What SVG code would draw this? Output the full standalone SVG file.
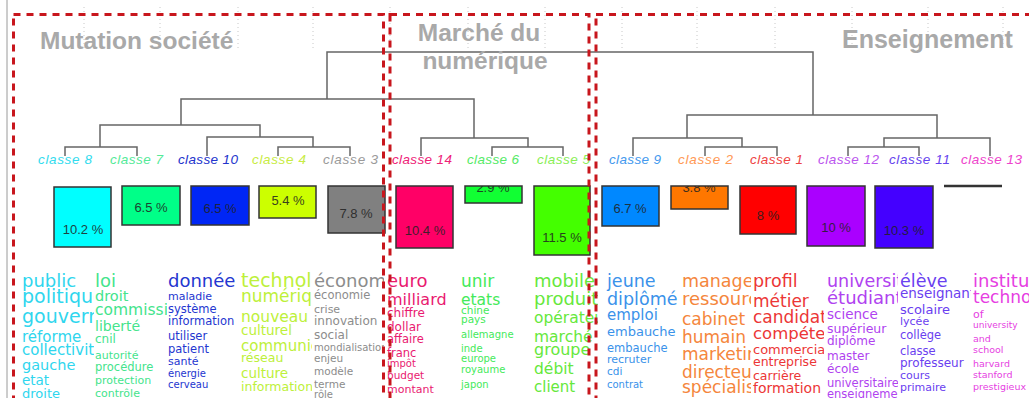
<svg xmlns="http://www.w3.org/2000/svg" width="1029" height="398" viewBox="0 0 1029 398">
<style>
.title{font-family:"Liberation Sans",Arial,sans-serif;font-weight:bold;font-size:24.5px;fill:#a9a9a9}
.lbl{font-family:"Liberation Sans",Arial,sans-serif;font-style:italic;font-size:13.5px}
.bar{stroke:#333;stroke-width:1.5}
.pct{font-family:"Liberation Sans",Arial,sans-serif;font-size:13px;fill:#222;text-anchor:middle;opacity:0.85}
.w{font-family:"DejaVu Sans",Verdana,sans-serif}
.den{fill:none;stroke:#666;stroke-width:1.5}
.grid{stroke:#c8c8c8;stroke-width:1;stroke-dasharray:1 3}
.frame{fill:none;stroke:#c8161d;stroke-width:3;stroke-dasharray:7 6}
</style>
<defs>
<clipPath id="c1"><rect x="18" y="262" width="76" height="140"/></clipPath>
<clipPath id="c2"><rect x="94" y="262" width="73" height="140"/></clipPath>
<clipPath id="c3"><rect x="167" y="262" width="72" height="140"/></clipPath>
<clipPath id="c4"><rect x="239" y="262" width="73" height="140"/></clipPath>
<clipPath id="c5"><rect x="312" y="262" width="72" height="140"/></clipPath>
<clipPath id="c6"><rect x="384" y="262" width="74" height="140"/></clipPath>
<clipPath id="c7"><rect x="458" y="262" width="74" height="140"/></clipPath>
<clipPath id="c8"><rect x="532" y="262" width="66" height="140"/></clipPath>
<clipPath id="c9"><rect x="604" y="262" width="75" height="140"/></clipPath>
<clipPath id="c10"><rect x="679" y="262" width="72" height="140"/></clipPath>
<clipPath id="c11"><rect x="751" y="262" width="73" height="140"/></clipPath>
<clipPath id="c12"><rect x="824" y="262" width="74" height="140"/></clipPath>
<clipPath id="c13"><rect x="898" y="262" width="73" height="140"/></clipPath>
<clipPath id="c14"><rect x="971" y="262" width="58" height="140"/></clipPath>
<clipPath id="bar6"><rect x="465" y="186" width="57" height="17"/></clipPath>
<clipPath id="bar2"><rect x="671" y="186" width="57" height="23"/></clipPath>
</defs>
<rect width="1029" height="398" fill="#fff"/>
<line x1="7" y1="0" x2="7" y2="398" stroke="#9a9a9a" stroke-width="1"/>
<g id="grid">
<line class="grid" x1="84" y1="7" x2="84" y2="50"/><line class="grid" x1="160" y1="7" x2="160" y2="50"/>
<line class="grid" x1="238" y1="7" x2="238" y2="50"/><line class="grid" x1="313" y1="7" x2="313" y2="50"/>
<line class="grid" x1="390" y1="7" x2="390" y2="50"/><line class="grid" x1="468" y1="7" x2="468" y2="50"/>
<line class="grid" x1="545" y1="7" x2="545" y2="50"/><line class="grid" x1="622" y1="7" x2="622" y2="50"/>
<line class="grid" x1="697" y1="7" x2="697" y2="50"/><line class="grid" x1="775" y1="7" x2="775" y2="50"/>
<line class="grid" x1="852" y1="7" x2="852" y2="50"/><line class="grid" x1="928" y1="7" x2="928" y2="50"/>
<line class="grid" x1="1003" y1="7" x2="1003" y2="50"/>
</g>
<g id="connectors">
<path class="den" d="M327 99 V52 H813 V115"/>
<path class="den" d="M181 125 V99 H474 V138"/>
<path class="den" d="M100 147 V125 H260 V137"/>
<path class="den" d="M65 156 V147 H137 V156"/>
<path class="den" d="M207 156 V137 H313 V147"/>
<path class="den" d="M278 156 V147 H350 V156"/>
<path class="den" d="M421 156 V138 H528 V147"/>
<path class="den" d="M492 156 V147 H563 V156"/>
<path class="den" d="M687 138 V115 H937 V138"/>
<path class="den" d="M633 156 V138 H742 V147"/>
<path class="den" d="M705 156 V147 H777 V156"/>
<path class="den" d="M884 147 V138 H990 V156"/>
<path class="den" d="M848 156 V147 H919 V156"/>
</g>
<g id="title-mutation"><text class="title" x="40" y="49">Mutation société</text></g>
<g id="title-marche"><text class="title" x="479" y="41" text-anchor="middle">Marché du</text><text class="title" x="485" y="69" text-anchor="middle">numérique</text></g>
<g id="title-enseignement"><text class="title" x="842" y="48" style="font-size:25px">Enseignement</text></g>

<g id="classe-8">
<text class="lbl" x="38" y="164" fill="#33dcee" textLength="54" lengthAdjust="spacing">classe 8</text>
<rect class="bar" x="54" y="187" width="57" height="60" fill="#00ffff"/>
<text class="pct" x="83" y="234">10.2 %</text>
<g class="w" fill="#2fd6ee" clip-path="url(#c1)">
<text x="22" y="287" font-size="18">public</text>
<text x="22" y="303" font-size="19">politique</text>
<text x="22" y="323" font-size="19">gouvernement</text>
<text x="22" y="342" font-size="15">réforme</text>
<text x="22" y="355" font-size="15">collectivité</text>
<text x="22" y="370" font-size="14.5">gauche</text>
<text x="22" y="385" font-size="13.5">etat</text>
<text x="22" y="398" font-size="13">droite</text>
</g>
</g>

<g id="classe-7">
<text class="lbl" x="110" y="164" fill="#55ea99" textLength="53" lengthAdjust="spacing">classe 7</text>
<rect class="bar" x="122" y="186" width="58" height="39" fill="#00ff88"/>
<text class="pct" x="151" y="212">6.5 %</text>
<g class="w" fill="#44e48c" clip-path="url(#c2)">
<text x="95" y="287" font-size="18">loi</text>
<text x="95" y="301" font-size="14.5">droit</text>
<text x="95" y="315" font-size="15.5">commission</text>
<text x="95" y="331" font-size="14">liberté</text>
<text x="95" y="343" font-size="12">cnil</text>
<text x="95" y="359" font-size="11">autorité</text>
<text x="95" y="371" font-size="11.5">procédure</text>
<text x="95" y="384" font-size="11">protection</text>
<text x="95" y="397" font-size="11">contrôle</text>
</g>
</g>

<g id="classe-10">
<text class="lbl" x="178" y="164" fill="#2233cc" textLength="60" lengthAdjust="spacing">classe 10</text>
<rect class="bar" x="191" y="186" width="58" height="39" fill="#0026f5"/>
<text class="pct" x="220" y="213">6.5 %</text>
<g class="w" fill="#2436d0" clip-path="url(#c3)">
<text x="168" y="287" font-size="18">donnée</text>
<text x="168" y="300" font-size="11">maladie</text>
<text x="168" y="313" font-size="11.5">système</text>
<text x="168" y="325" font-size="11.5">information</text>
<text x="168" y="340" font-size="11.5">utiliser</text>
<text x="168" y="353" font-size="11.5">patient</text>
<text x="168" y="365" font-size="11">santé</text>
<text x="168" y="377" font-size="10">énergie</text>
<text x="168" y="388" font-size="10">cerveau</text>
</g>
</g>

<g id="classe-4">
<text class="lbl" x="252" y="164" fill="#c8ec44" textLength="54" lengthAdjust="spacing">classe 4</text>
<rect class="bar" x="259" y="186" width="57" height="32" fill="#ccff00"/>
<text class="pct" x="288" y="205">5.4 %</text>
<g class="w" fill="#bdf03a" clip-path="url(#c4)">
<text x="241" y="287" font-size="19">technologie</text>
<text x="241" y="302" font-size="17">numérique</text>
<text x="241" y="322" font-size="15.5">nouveau</text>
<text x="241" y="335" font-size="13.5">culturel</text>
<text x="241" y="351" font-size="15">communication</text>
<text x="241" y="362" font-size="12.5">réseau</text>
<text x="241" y="378" font-size="13.5">culture</text>
<text x="241" y="391" font-size="12.5">information</text>
</g>
</g>

<g id="classe-3">
<text class="lbl" x="323" y="164" fill="#9a9a9a" textLength="55" lengthAdjust="spacing">classe 3</text>
<rect class="bar" x="328" y="186" width="57" height="47" fill="#808080"/>
<text class="pct" x="356" y="218">7.8 %</text>
<g class="w" fill="#8c8c8c" clip-path="url(#c5)">
<text x="314" y="287" font-size="18">économie</text>
<text x="314" y="299" font-size="11.5">économie</text>
<text x="314" y="313" font-size="11">crise</text>
<text x="314" y="325" font-size="12">innovation</text>
<text x="314" y="339" font-size="12">social</text>
<text x="314" y="351" font-size="10">mondialisation</text>
<text x="314" y="362" font-size="10.5">enjeu</text>
<text x="314" y="375" font-size="10.5">modèle</text>
<text x="314" y="388" font-size="10.5">terme</text>
<text x="314" y="398" font-size="10">rôle</text>
</g>
</g>

<g id="classe-14">
<text class="lbl" x="392" y="164" fill="#ee2277" textLength="60" lengthAdjust="spacing">classe 14</text>
<rect class="bar" x="396" y="186" width="57" height="62" fill="#ff0066"/>
<text class="pct" x="425" y="235">10.4 %</text>
<g class="w" fill="#e91a70" clip-path="url(#c6)">
<text x="387" y="287" font-size="18">euro</text>
<text x="387" y="305" font-size="16">milliard</text>
<text x="387" y="317" font-size="12">chiffre</text>
<text x="387" y="331" font-size="12">dollar</text>
<text x="387" y="343" font-size="11.5">affaire</text>
<text x="387" y="357" font-size="11.5">franc</text>
<text x="387" y="367" font-size="10">impôt</text>
<text x="387" y="379" font-size="10.5">budget</text>
<text x="387" y="393" font-size="11">montant</text>
</g>
</g>

<g id="classe-6">
<text class="lbl" x="467" y="164" fill="#55ea66" textLength="52" lengthAdjust="spacing">classe 6</text>
<rect class="bar" x="465" y="186" width="57" height="17" fill="#11ff33"/>
<text class="pct" x="493" y="192" clip-path="url(#bar6)">2.9 %</text>
<g class="w" fill="#44ea5a" clip-path="url(#c7)">
<text x="461" y="287" font-size="17">unir</text>
<text x="461" y="305" font-size="15.5">etats</text>
<text x="461" y="314" font-size="10.5">chine</text>
<text x="461" y="323" font-size="10.5">pays</text>
<text x="461" y="338" font-size="10">allemagne</text>
<text x="461" y="352" font-size="10">inde</text>
<text x="461" y="362" font-size="10">europe</text>
<text x="461" y="373" font-size="10">royaume</text>
<text x="461" y="388" font-size="10">japon</text>
</g>
</g>

<g id="classe-5">
<text class="lbl" x="537" y="164" fill="#88ee55" textLength="53" lengthAdjust="spacing">classe 5</text>
<rect class="bar" x="534" y="186" width="56" height="69" fill="#44ff00"/>
<text class="pct" x="562" y="242">11.5 %</text>
<g class="w" fill="#66e83c" clip-path="url(#c8)">
<text x="534" y="287" font-size="18">mobile</text>
<text x="534" y="305" font-size="18">produit</text>
<text x="534" y="323" font-size="15.5">opérateur</text>
<text x="534" y="342" font-size="15.5">marché</text>
<text x="534" y="355" font-size="16">groupe</text>
<text x="534" y="374" font-size="15.5">débit</text>
<text x="534" y="392" font-size="15">client</text>
</g>
</g>

<g id="classe-9">
<text class="lbl" x="609" y="164" fill="#4499ee" textLength="52" lengthAdjust="spacing">classe 9</text>
<rect class="bar" x="602" y="186" width="57" height="40" fill="#0088ff"/>
<text class="pct" x="630" y="213">6.7 %</text>
<g class="w" fill="#3a92ea" clip-path="url(#c9)">
<text x="607" y="287" font-size="17.5">jeune</text>
<text x="607" y="305" font-size="17.5">diplômé</text>
<text x="607" y="320" font-size="15">emploi</text>
<text x="607" y="336" font-size="13">embauche</text>
<text x="607" y="352" font-size="11.5">embauche</text>
<text x="607" y="363" font-size="11">recruter</text>
<text x="607" y="375" font-size="10.5">cdi</text>
<text x="607" y="388" font-size="10">contrat</text>
</g>
</g>

<g id="classe-2">
<text class="lbl" x="678" y="164" fill="#ff9955" textLength="55" lengthAdjust="spacing">classe 2</text>
<rect class="bar" x="671" y="186" width="57" height="23" fill="#ff7700"/>
<text class="pct" x="699" y="192" clip-path="url(#bar2)">3.8 %</text>
<g class="w" fill="#f5863c" clip-path="url(#c10)">
<text x="682" y="287" font-size="17.5">management</text>
<text x="682" y="305" font-size="18">ressource</text>
<text x="682" y="325" font-size="17">cabinet</text>
<text x="682" y="343" font-size="17">humain</text>
<text x="682" y="360" font-size="17">marketing</text>
<text x="682" y="378" font-size="17">directeur</text>
<text x="682" y="393" font-size="17">spécialiste</text>
</g>
</g>

<g id="classe-1">
<text class="lbl" x="750" y="164" fill="#ee4444" textLength="53" lengthAdjust="spacing">classe 1</text>
<rect class="bar" x="740" y="186" width="56" height="48" fill="#ff0000"/>
<text class="pct" x="768" y="220">8 %</text>
<g class="w" fill="#ec3636" clip-path="url(#c11)">
<text x="753" y="287" font-size="17.5">profil</text>
<text x="753" y="307" font-size="17">métier</text>
<text x="753" y="323" font-size="17">candidat</text>
<text x="753" y="339" font-size="16.5">compétence</text>
<text x="753" y="354" font-size="13">commercial</text>
<text x="753" y="366" font-size="12.5">entreprise</text>
<text x="753" y="380" font-size="12.5">carrière</text>
<text x="753" y="393" font-size="14">formation</text>
</g>
</g>

<g id="classe-12">
<text class="lbl" x="818" y="164" fill="#bb55ee" textLength="61" lengthAdjust="spacing">classe 12</text>
<rect class="bar" x="807" y="186" width="58" height="60" fill="#aa00ff"/>
<text class="pct" x="836" y="232">10 %</text>
<g class="w" fill="#b042f0" clip-path="url(#c12)">
<text x="827" y="287" font-size="17.5">université</text>
<text x="827" y="304" font-size="18">étudiant</text>
<text x="827" y="319" font-size="13.5">science</text>
<text x="827" y="333" font-size="12.5">supérieur</text>
<text x="827" y="345" font-size="12">diplôme</text>
<text x="827" y="360" font-size="12">master</text>
<text x="827" y="373" font-size="12">école</text>
<text x="827" y="387" font-size="11.5">universitaire</text>
<text x="827" y="398" font-size="11.5">enseignement</text>
</g>
</g>

<g id="classe-11">
<text class="lbl" x="889" y="164" fill="#6644ee" textLength="61" lengthAdjust="spacing">classe 11</text>
<rect class="bar" x="875" y="186" width="58" height="62" fill="#4400ff"/>
<text class="pct" x="904" y="235">10.3 %</text>
<g class="w" fill="#6a40f0" clip-path="url(#c13)">
<text x="900" y="287" font-size="17.5">élève</text>
<text x="900" y="298" font-size="13.5">enseignant</text>
<text x="900" y="314" font-size="13">scolaire</text>
<text x="900" y="325" font-size="11">lycée</text>
<text x="900" y="339" font-size="11.5">collège</text>
<text x="900" y="355" font-size="11.5">classe</text>
<text x="900" y="367" font-size="12">professeur</text>
<text x="900" y="379" font-size="11">cours</text>
<text x="900" y="391" font-size="11">primaire</text>
</g>
</g>

<g id="classe-13">
<text class="lbl" x="961" y="164" fill="#ee44cc" textLength="61" lengthAdjust="spacing">classe 13</text>
<line x1="944" y1="186" x2="1002" y2="186" stroke="#333" stroke-width="2.5"/>
<g class="w" fill="#e63ee2" clip-path="url(#c14)">
<text x="973" y="287" font-size="18">institut</text>
<text x="973" y="303" font-size="17">technologie</text>
<text x="973" y="318" font-size="11">of</text>
<text x="973" y="328" font-size="9">university</text>
<text x="973" y="342" font-size="9.5">and</text>
<text x="973" y="353" font-size="9.5">school</text>
<text x="973" y="367" font-size="9.5">harvard</text>
<text x="973" y="378" font-size="9.5">stanford</text>
<text x="973" y="390" font-size="9.5">prestigieux</text>
</g>
</g>

<g id="frames">
<rect class="frame" x="13.5" y="14.5" width="370" height="500"/>
<rect class="frame" x="390" y="14.5" width="199" height="500"/>
<rect class="frame" x="596" y="14.5" width="500" height="500"/>
</g>
</svg>
